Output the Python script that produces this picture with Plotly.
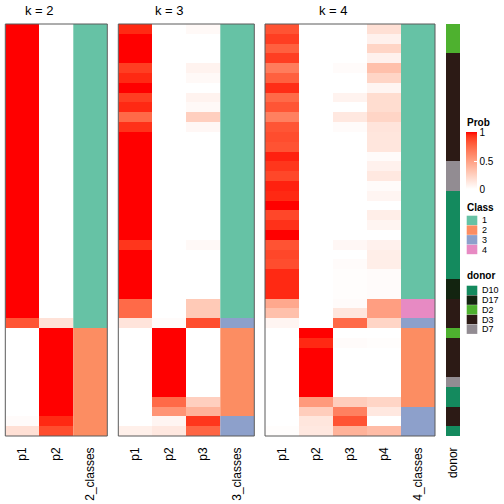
import plotly.graph_objects as go
import numpy as np

# ---------------- data ----------------
rows = list(range(42))

k2_p1 = [1.0]*30 + [0.82] + [0.0]*9 + [0.02, 0.16]
k2_p2 = [0.0]*30 + [0.15] + [1.0]*9 + [0.95, 0.85]
k2_class = [1]*31 + [2]*11

k3_p1 = [0.95, 1, 1, 1, 0.9, 0.95, 1, 0.9, 0.95, 0.74, 0.93] + [1.0]*11 + [0.92] + [1.0]*5 + [0.74, 0.74, 0.14] + [0.0]*10 + [0.08]
k3_p2 = [0.0]*30 + [0.02] + [1.0]*7 + [0.74, 0.55, 0.05, 0.12]
k3_p3 = [0.03, 0, 0, 0, 0.06, 0.03, 0, 0.06, 0.03, 0.25, 0.04] + [0.0]*11 + [0.03] + [0.0]*5 + [0.28, 0.28, 0.85] + [0.0]*7 + [0.25, 0.4, 0.92, 0.76]
k3_class = [1]*30 + [3] + [2]*9 + [3, 3]

k4_p1 = [0.83, 0.9, 0.78, 0.9, 0.66, 0.78, 0.94, 0.74, 0.82, 0.64, 0.82, 0.85, 0.83, 0.96, 0.92, 0.87,
         0.96, 0.95, 1.0, 0.87, 0.93, 1.0, 0.83, 0.87, 0.85, 0.95, 0.95, 0.95, 0.45, 0.33, 0.05] + [0.0]*10 + [0.01]
k4_p2 = [0.0]*31 + [1, 0.95, 1, 1, 1, 1, 1, 0.52, 0.26, 0.13, 0.12]
k4_p3 = [0, 0, 0, 0, 0.02, 0, 0, 0.06, 0, 0.12, 0.02] + [0.0]*11 + [0.04, 0, 0.02, 0.01, 0.01, 0.01, 0.02, 0.13, 0.74] + [0, 0.02, 0, 0, 0, 0, 0, 0.26, 0.64, 0.83, 0.4]
k4_p4 = [0.16, 0.07, 0.22, 0.07, 0.33, 0.22, 0.05, 0.18, 0.18, 0.22, 0.14, 0.13, 0.13, 0.02, 0.07, 0.12,
         0.02, 0.05, 0, 0.09, 0.05, 0, 0.07, 0.09, 0.09, 0.02, 0.02, 0.02, 0.5, 0.5, 0.22] + [0, 0.01, 0, 0, 0, 0, 0] + [0.22, 0.12, 0, 0.35]
k4_class = [1]*28 + [4, 4, 3] + [2]*8 + [3, 3, 3]

donor = ["D2"]*3 + ["D3"]*11 + ["D7"]*3 + ["D10"]*9 + ["D17"]*2 + ["D3"]*3 + ["D2"] + ["D3"]*4 + ["D7"] + ["D10"]*2 + ["D3"]*2 + ["D10"]

class_levels = ["1", "2", "3", "4"]
class_colors = ["#66C2A5", "#FC8D62", "#8DA0CB", "#E78AC3"]
donor_levels = ["D10", "D17", "D2", "D3", "D7"]
donor_colors = ["#148A5E", "#132410", "#4EB12F", "#2C1A15", "#928C92"]

panel_titles = ["k = 2", "k = 3", "k = 4"]

# ---------------- helpers ----------------
FONT = "Liberation Sans, Arial, Helvetica, sans-serif"
W = H = 504


def px_x(p):
    return p / W


def px_y(p):
    return 1 - p / H


def srgb_to_lin(c):
    c = c / 255.0
    return c / 12.92 if c <= 0.04045 else ((c + 0.055) / 1.055) ** 2.4


def lin_to_srgb(c):
    c = min(max(c, 0.0), 1.0)
    v = 12.92 * c if c <= 0.0031308 else 1.055 * c ** (1 / 2.4) - 0.055
    return int(round(min(max(v, 0), 1) * 255))


WHITE_REF = (0.95047, 1.0, 1.08883)


def rgb_to_lab(rgb):
    r, g, b = [srgb_to_lin(v) for v in rgb]
    X = 0.4124 * r + 0.3576 * g + 0.1805 * b
    Y = 0.2126 * r + 0.7152 * g + 0.0722 * b
    Z = 0.0193 * r + 0.1192 * g + 0.9505 * b

    def f(t):
        return t ** (1 / 3) if t > 0.008856 else 7.787 * t + 16 / 116
    fx, fy, fz = f(X / WHITE_REF[0]), f(Y / WHITE_REF[1]), f(Z / WHITE_REF[2])
    return (116 * fy - 16, 500 * (fx - fy), 200 * (fy - fz))


def lab_to_rgb(lab):
    L, a, b = lab
    fy = (L + 16) / 116
    fx = fy + a / 500
    fz = fy - b / 200

    def finv(t):
        return t ** 3 if t ** 3 > 0.008856 else (t - 16 / 116) / 7.787
    X, Y, Z = WHITE_REF[0] * finv(fx), WHITE_REF[1] * finv(fy), WHITE_REF[2] * finv(fz)
    r = 3.2406 * X - 1.5372 * Y - 0.4986 * Z
    g = -0.9689 * X + 1.8758 * Y + 0.0415 * Z
    bb = 0.0557 * X - 0.2040 * Y + 1.0570 * Z
    return "rgb(%d,%d,%d)" % (lin_to_srgb(r), lin_to_srgb(g), lin_to_srgb(bb))


lab_w = rgb_to_lab((255, 255, 255))
lab_r = rgb_to_lab((255, 0, 0))
prob_scale = []
for t in np.linspace(0, 1, 21):
    lab = tuple(lab_w[i] + (lab_r[i] - lab_w[i]) * t for i in range(3))
    prob_scale.append([float(t), lab_to_rgb(lab)])


def discrete_scale(colors):
    n = len(colors)
    sc = []
    for i, c in enumerate(colors):
        sc.append([i / n, c])
        sc.append([(i + 1) / n, c])
    return sc


# ---------------- figure ----------------
fig = go.Figure()

y_top, y_bot = 24, 436
col_w = 34
panels = [
    dict(ax="x", x0=5.3, probs=[k2_p1, k2_p2], cls=k2_class, cname="2_classes"),
    dict(ax="x2", x0=118.3, probs=[k3_p1, k3_p2, k3_p3], cls=k3_class, cname="3_classes"),
    dict(ax="x3", x0=265.0, probs=[k4_p1, k4_p2, k4_p3, k4_p4], cls=k4_class, cname="4_classes"),
]

layout_axes = {}
shapes = []
annotations = []

for i, p in enumerate(panels):
    labels = ["p%d" % (j + 1) for j in range(len(p["probs"]))]
    nprob = len(labels)
    z = np.column_stack(p["probs"]).tolist()
    fig.add_trace(go.Heatmap(
        x=list(range(nprob)), y=rows, z=z, xaxis=p["ax"], yaxis="y",
        colorscale=prob_scale, zmin=0, zmax=1,
        showscale=(i == 0),
        colorbar=dict(
            thickness=11, thicknessmode="pixels", len=57, lenmode="pixels",
            x=px_x(466), xanchor="left", y=px_y(132.5), yanchor="top",
            xpad=0, ypad=0, outlinewidth=0,
            tickvals=[0, 0.5, 1], ticktext=["0", "0.5", "1"],
            ticks="inside", tickcolor="white", ticklen=3,
            tickfont=dict(family=FONT, size=10, color="black"),
        ),
        hoverinfo="skip",
    ))
    fig.add_trace(go.Heatmap(
        x=[nprob], y=rows, z=[[c] for c in p["cls"]], xaxis=p["ax"], yaxis="y",
        colorscale=discrete_scale(class_colors), zmin=0.5, zmax=len(class_colors) + 0.5,
        showscale=False, hoverinfo="skip",
    ))
    ncol = nprob + 1
    key = "xaxis" if i == 0 else "xaxis%d" % (i + 1)
    layout_axes[key] = dict(
        domain=[px_x(p["x0"]), px_x(p["x0"] + col_w * ncol)],
        anchor="y", range=[-0.5, ncol - 0.5],
        tickmode="array", tickvals=list(range(ncol)), ticktext=labels + [p["cname"]],
        showgrid=False, zeroline=False, showline=False, ticks="",
        tickangle=-90, ticklabelstandoff=8,
        tickfont=dict(family=FONT, size=12, color="black"),
    )
    shapes.append(dict(type="rect", xref=p["ax"] + " domain", yref="y domain",
                       x0=0, x1=1, y0=0, y1=1, line=dict(color="#5a5a5a", width=1)))
    annotations.append(dict(
        text=panel_titles[i], xref=p["ax"] + " domain", yref="paper",
        x=(nprob / ncol) / 2, y=px_y(10.5), xanchor="center", yanchor="middle",
        showarrow=False, font=dict(family=FONT, size=13, color="black")))

# donor annotation column
donor_idx = [donor_levels.index(d) + 1 for d in donor]
fig.add_trace(go.Heatmap(
    x=[0], y=rows, z=[[d] for d in donor_idx], xaxis="x4", yaxis="y",
    colorscale=discrete_scale(donor_colors), zmin=0.5, zmax=len(donor_colors) + 0.5,
    showscale=False, hoverinfo="skip",
))
layout_axes["xaxis4"] = dict(
    domain=[px_x(446), px_x(460)], anchor="y", range=[-0.5, 0.5],
    tickmode="array", tickvals=[0], ticktext=["donor"],
    showgrid=False, zeroline=False, showline=False, ticks="",
    tickangle=-90, ticklabelstandoff=8,
    tickfont=dict(family=FONT, size=12, color="black"),
)

# legends (Prob title, Class, donor)
annotations.append(dict(text="<b>Prob</b>", xref="paper", yref="paper", x=px_x(465), y=px_y(122),
                        xanchor="left", yanchor="middle", showarrow=False,
                        font=dict(family=FONT, size=10, color="black")))


def discrete_legend(title, levels, colors, title_y, first_top, step=9.7, sw=10.6, sh=9.4):
    annotations.append(dict(text="<b>%s</b>" % title, xref="paper", yref="paper", x=px_x(465),
                            y=px_y(title_y), xanchor="left", yanchor="middle", showarrow=False,
                            font=dict(family=FONT, size=10, color="black")))
    for j, (lv, col) in enumerate(zip(levels, colors)):
        top = first_top + j * step
        shapes.append(dict(type="rect", xref="paper", yref="paper",
                           x0=px_x(466.7), x1=px_x(466.7 + sw), y0=px_y(top), y1=px_y(top + sh),
                           fillcolor=col, line=dict(width=0)))
        annotations.append(dict(text=lv, xref="paper", yref="paper", x=px_x(479.5),
                                y=px_y(top + sh / 2), xanchor="left", yanchor="middle",
                                showarrow=False, font=dict(family=FONT, size=9, color="black")))


discrete_legend("Class", class_levels, class_colors, 207.0, 215.7)
discrete_legend("donor", donor_levels, donor_colors, 275.5, 285.7)

fig.update_layout(
    width=W, height=H, margin=dict(l=0, r=0, t=0, b=0),
    paper_bgcolor="white", plot_bgcolor="white",
    showlegend=False,
    yaxis=dict(domain=[px_y(y_bot), px_y(y_top)], autorange="reversed",
               showticklabels=False, showgrid=False, zeroline=False, ticks=""),
    shapes=shapes, annotations=annotations,
    font=dict(family=FONT, size=10, color="black"),
    **layout_axes,
)

fig.write_html("out.html", config={"displayModeBar": False},
               post_script="document.body.style.margin='0';document.body.style.overflow='hidden';")
